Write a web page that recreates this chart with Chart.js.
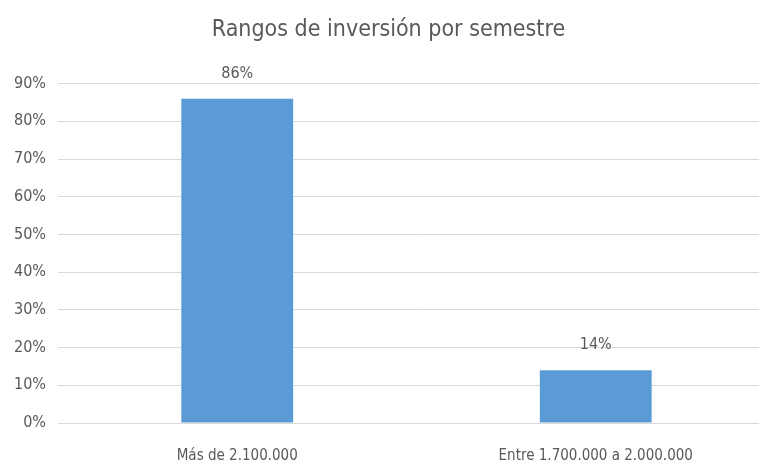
<!DOCTYPE html>
<html>
<head>
<meta charset="utf-8">
<script src="https://cdn.jsdelivr.net/npm/chart.js@4/dist/chart.umd.min.js"></script>
<style>
  html, body { margin: 0; padding: 0; background: #fff; overflow: hidden; }
  canvas { display: block; }
</style>
</head>
<body>
<canvas id="chart" width="775" height="466"></canvas>
<script>
// datos del gráfico
const categorias = ['Más de 2.100.000', 'Entre 1.700.000 a 2.000.000'];
const porcentajes = [86, 14];
const tituloGrafico = 'Rangos de inversión por semestre';

const fuente = '"DejaVu Sans Condensed", "Liberation Sans Narrow", "Liberation Sans", sans-serif';
const gris = '#595959';

// etiquetas encima de cada barra
const etiquetasBarras = {
    id: 'etiquetasBarras',
    afterDatasetsDraw(chart) {
        const ctx = chart.ctx;
        const meta = chart.getDatasetMeta(0);
        ctx.save();
        ctx.font = '16px ' + fuente;
        ctx.fillStyle = gris;
        ctx.textAlign = 'center';
        ctx.textBaseline = 'bottom';
        meta.data.forEach((bar, i) => {
            ctx.fillText(porcentajes[i] + '%', bar.x, bar.y - 17);
        });
        ctx.restore();
    }
};

const ctx = document.getElementById('chart').getContext('2d');
new Chart(ctx, {
    type: 'bar',
    data: {
        labels: categorias,
        datasets: [{
            data: porcentajes,
            backgroundColor: '#5b9bd5',
            barPercentage: 0.312,
            categoryPercentage: 1
        }]
    },
    options: {
        responsive: false,
        animation: false,
        layout: { padding: { left: 2, right: 0, top: 0, bottom: 0 } },
        plugins: {
            legend: { display: false },
            tooltip: { enabled: false },
            title: {
                display: true,
                text: tituloGrafico,
                color: gris,
                font: { family: fuente, size: 23, weight: 'normal' },
                padding: { top: 16, bottom: 40 }
            }
        },
        scales: {
            x: {
                grid: { display: false },
                border: { display: false },
                afterFit: s => { s.height = 43; },
                ticks: {
                    color: gris,
                    font: { family: fuente, size: 15 },
                    padding: 16,
                    maxRotation: 0
                }
            },
            y: {
                min: 0,
                max: 90,
                grid: { color: '#d9d9d9', drawTicks: false, lineWidth: 1 },
                border: { display: false },
                ticks: {
                    stepSize: 10,
                    color: gris,
                    font: { family: fuente, size: 16 },
                    padding: 12,
                    callback: v => v + '%'
                }
            }
        }
    },
    plugins: [etiquetasBarras]
});
</script>
</body>
</html>
